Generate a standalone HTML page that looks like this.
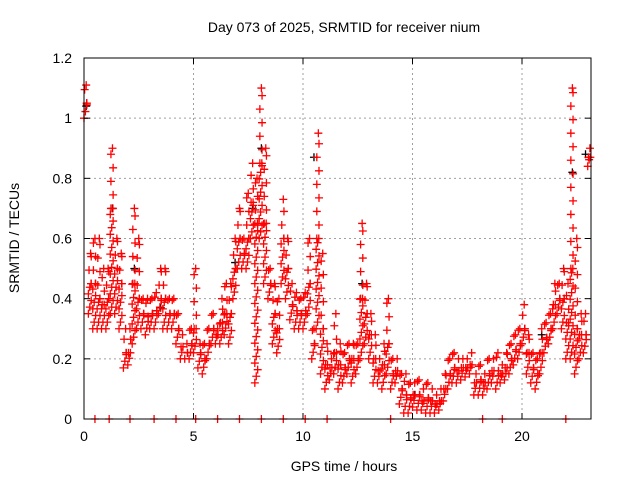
<!DOCTYPE html>
<html><head><meta charset="utf-8"><style>
body{margin:0;background:#fff}
svg text{font-family:"Liberation Sans",sans-serif;font-size:14px;fill:#000}
</style></head><body>
<svg id="chart" width="640" height="480" xmlns="http://www.w3.org/2000/svg">
<rect width="640" height="480" fill="#fff"/>
<text x="344" y="32" text-anchor="middle">Day 073 of 2025, SRMTID for receiver nium</text>
<text transform="translate(19,238) rotate(-90)" text-anchor="middle">SRMTID / TECUs</text>
<text x="344" y="471" text-anchor="middle">GPS time / hours</text>
<g id="grid"></g><g id="marks"></g><g id="axes"></g>
</svg>
<script>
const times=[0,0.2,0.4,0.6,0.8,1.0,1.2,1.4,1.6,1.8,2.0,2.2,2.4,2.6,2.8,3.0,3.2,3.4,3.6,3.8,4.0,4.2,4.4,4.6,4.8,5.0,5.2,5.4,5.6,5.8,6.0,6.2,6.4,6.6,6.8,7.0,7.2,7.4,7.6,7.8,8.0,8.2,8.4,8.6,8.8,9.0,9.2,9.4,9.6,9.8,10.0,10.2,10.4,10.6,10.8,11.0,11.2,11.4,11.6,11.8,12.0,12.2,12.4,12.6,12.8,13.0,13.2,13.4,13.6,13.8,14.0,14.2,14.4,14.6,14.8,15.0,15.2,15.4,15.6,15.8,16.0,16.2,16.4,16.6,16.8,17.0,17.2,17.4,17.6,17.8,18.0,18.2,18.4,18.6,18.8,19.0,19.2,19.4,19.6,19.8,20.0,20.2,20.4,20.6,20.8,21.0,21.2,21.4,21.6,21.8,22.0,22.2,22.4,22.6,22.8,23.0];
const hiVals=[1.11,0.55,0.6,0.6,0.5,0.5,0.9,0.6,0.55,0.3,0.3,0.7,0.6,0.4,0.4,0.4,0.42,0.5,0.5,0.4,0.4,0.35,0.28,0.25,0.3,0.5,0.25,0.25,0.3,0.35,0.3,0.4,0.45,0.45,0.6,0.7,0.6,0.75,0.85,0.8,1.1,0.9,0.5,0.45,0.4,0.73,0.6,0.45,0.42,0.4,0.42,0.6,0.3,0.95,0.55,0.25,0.2,0.35,0.25,0.22,0.25,0.25,0.25,0.65,0.45,0.35,0.28,0.2,0.25,0.4,0.2,0.2,0.15,0.15,0.12,0.12,0.13,0.1,0.12,0.1,0.08,0.1,0.15,0.2,0.22,0.2,0.2,0.2,0.22,0.15,0.18,0.15,0.2,0.2,0.22,0.18,0.22,0.25,0.28,0.3,0.38,0.28,0.22,0.2,0.3,0.32,0.35,0.45,0.45,0.5,0.45,1.1,0.6,0.35,0.35,0.9];
const midVals=[1.05,0.45,0.45,0.4,0.38,0.4,0.7,0.5,0.45,0.22,0.22,0.45,0.4,0.35,0.34,0.35,0.36,0.4,0.4,0.35,0.35,0.3,0.24,0.22,0.25,0.3,0.22,0.2,0.25,0.3,0.28,0.32,0.35,0.35,0.5,0.6,0.55,0.6,0.72,0.65,0.85,0.65,0.45,0.35,0.3,0.6,0.5,0.38,0.36,0.35,0.36,0.45,0.25,0.6,0.3,0.18,0.17,0.22,0.18,0.17,0.2,0.2,0.2,0.4,0.35,0.28,0.2,0.16,0.18,0.25,0.15,0.16,0.1,0.08,0.07,0.08,0.08,0.06,0.07,0.06,0.05,0.06,0.1,0.15,0.17,0.16,0.17,0.17,0.18,0.12,0.13,0.12,0.15,0.16,0.16,0.15,0.17,0.2,0.23,0.25,0.3,0.22,0.17,0.15,0.22,0.27,0.3,0.38,0.4,0.4,0.32,0.5,0.3,0.28,0.28,0.87];
const loVals=[1.0,0.35,0.3,0.3,0.3,0.3,0.35,0.35,0.3,0.17,0.18,0.25,0.3,0.3,0.28,0.3,0.3,0.35,0.3,0.3,0.3,0.25,0.2,0.2,0.2,0.22,0.17,0.15,0.2,0.25,0.25,0.25,0.28,0.25,0.4,0.5,0.5,0.5,0.6,0.12,0.6,0.45,0.4,0.25,0.22,0.45,0.4,0.33,0.3,0.3,0.3,0.35,0.2,0.3,0.15,0.1,0.13,0.15,0.1,0.12,0.15,0.12,0.15,0.2,0.25,0.2,0.12,0.12,0.1,0.15,0.1,0.12,0.05,0.02,0.02,0.04,0.03,0.03,0.02,0.02,0.02,0.03,0.06,0.1,0.12,0.12,0.13,0.14,0.15,0.08,0.08,0.08,0.1,0.12,0.1,0.12,0.13,0.15,0.18,0.2,0.25,0.15,0.12,0.1,0.15,0.22,0.25,0.3,0.35,0.3,0.2,0.2,0.15,0.2,0.22,0.84];
const blackTimes=[0.1,1.3,2.3,3.5,6.9,7.7,8.1,10.5,12.7,15.1,20.9,22.3,22.9];
const blackVals=[1.04,0.7,0.5,0.37,0.52,0.7,0.9,0.87,0.45,0.08,0.28,0.82,0.88];
const zeroTimes=[0.5,1.15,2.1,3.2,4.2,5.1,6.1,7.1,8.1,9.1,10.1,11.1,14.0,18.2,19.1,22.0];
const xTicks=[0,5,10,15,20];
const yTicks=[0,0.2,0.4,0.6,0.8,1.0,1.2];
const yTickLabels=["0","0.2","0.4","0.6","0.8","1","1.2"];

const L=84,R=591,T=58,B=419,XMAX=23.15,YMAX=1.2;
const xs=t=>L+(R-L)*t/XMAX, ys=v=>B-(B-T)*v/YMAX;
const NS="http://www.w3.org/2000/svg";
const mk=(tag,at,p)=>{const e=document.createElementNS(NS,tag);for(const k in at)e.setAttribute(k,at[k]);p.appendChild(e);return e;};
const grid=document.getElementById('grid'),marks=document.getElementById('marks'),axes=document.getElementById('axes');
xTicks.forEach(t=>{
 const x=xs(t);
 if(t>0){const g=mk('line',{x1:x,x2:x,y1:T,y2:B,stroke:'#a0a0a0','stroke-dasharray':'2,3'},grid);
 
 }
 mk('line',{x1:x,x2:x,y1:B,y2:B-6,stroke:'#000'},axes);
 mk('line',{x1:x,x2:x,y1:T,y2:T+6,stroke:'#000'},axes);
 const tx=mk('text',{x:x,y:B+22,'text-anchor':'middle'},axes);tx.textContent=t;
 
 
});
yTicks.forEach((v,i)=>{
 const y=ys(v);
 if(v>0&&v<YMAX){const g=mk('line',{x1:L,x2:R,y1:y,y2:y,stroke:'#a0a0a0','stroke-dasharray':'2,3'},grid);
 
 }
 mk('line',{x1:L,x2:L+6,y1:y,y2:y,stroke:'#000'},axes);
 mk('line',{x1:R,x2:R-6,y1:y,y2:y,stroke:'#000'},axes);
 const tx=mk('text',{x:L-12,y:y+5,'text-anchor':'end'},axes);tx.textContent=yTickLabels[i];
 
 
});
const frame=mk('rect',{x:L,y:T,width:R-L,height:B-T,fill:'none',stroke:'#000'},axes);


function plus(t,v,c,name){
 const x=xs(t),y=ys(v);
 const p=mk('path',{d:`M${x-4},${y}h8M${x},${y-4}v8`,stroke:c,'stroke-width':1.3,fill:'none'},marks);
 
 
}
blackTimes.forEach((t,i)=>plus(t,blackVals[i],'#000','black-point'));
times.forEach((t,i)=>{
 const lo=loVals[i], mid=midVals[i], hi=hiVals[i];
 let k=0;
 for(let v=lo; v<=mid; v+=0.022){ plus(t+0.065*(k%3),v,'#f00','red-point'); k++; }
 for(let v=mid; v<=hi; v+=0.045){ plus(t+0.1*(k%2)+0.03,v,'#f00','red-point'); k++; }
 plus(t+0.1,hi,'#f00','red-point-high');
 plus(t+0.12,mid,'#f00','red-point-mid');
});
zeroTimes.forEach(t=>plus(t,0,'#f00','zero-point'));
</script>
</body></html>
